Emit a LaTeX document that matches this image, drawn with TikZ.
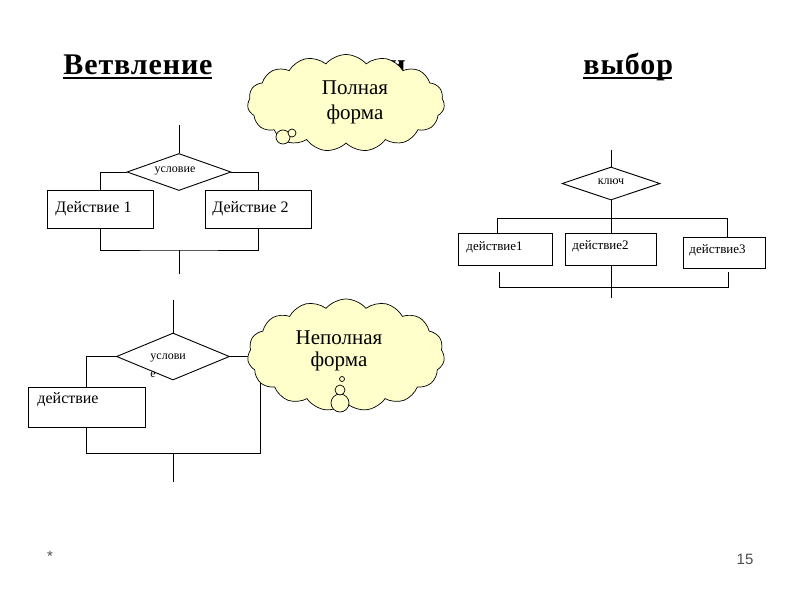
\documentclass[tikz,border=0pt]{standalone}
\usepackage{fontspec}
\setmainfont{Liberation Serif}
\newfontfamily\footfont{Liberation Sans}
\usetikzlibrary{shapes.geometric,shapes.symbols}
\definecolor{cloudfill}{HTML}{FFFFCC}
\begin{document}
\begin{tikzpicture}[x=1pt,y=-1pt, line width=0.9pt,
  box/.style={draw, rectangle, inner sep=0pt},
  dia/.style={draw, diamond, inner sep=0pt, fill=white},
  lbl/.style={anchor=west, inner sep=0pt, font=\fontsize{16}{18}\selectfont},
  small/.style={inner sep=0pt, font=\fontsize{12}{14}\selectfont},
  titlef/.style={anchor=base west, inner sep=0pt, font=\fontsize{30}{32}\selectfont\bfseries\addfontfeature{LetterSpace=3}},
  thought/.style={draw, cloud, cloud puffs=15, cloud puff arc=100, cloud ignores aspect, fill=cloudfill, line width=0.7pt, inner sep=0pt},
  bub/.style={draw, circle, fill=cloudfill, inner sep=0pt, line width=0.7pt},
  cloudtext/.style={align=center, inner sep=0pt, font=\fontsize{21}{25}\selectfont},
  foot/.style={inner sep=0pt, text=black!70, font=\footfont\fontsize{15}{15}\selectfont}]
\useasboundingbox (0,0) rectangle (800,600);

% titles
\node[titlef] (t1) at (63,74) {Ветвление};
\node[titlef] (t2) at (388,74) {и};
\node[titlef] (t3) at (583,74) {выбор};
\draw[line width=2pt] ([yshift=-4pt]t1.base west) -- ([yshift=-4pt,xshift=-1pt]t1.base east);
\draw[line width=2pt] ([yshift=-4pt]t3.base west) -- ([yshift=-4pt,xshift=-1pt]t3.base east);

% diagram 1: full branching
\coordinate (a1) at (179,125);
\node[dia, minimum width=104pt, minimum height=37pt] (d1) at (179,172) {};
\node[small] (d1t) at (175,171) {условие};
\node[box, minimum width=106pt, minimum height=38pt] (b1) at (100,209) {};
\node[box, minimum width=106pt, minimum height=38pt] (b2) at (258,209) {};
\node[lbl] (b1t) at (55,209) {Действие 1};
\node[lbl] (b2t) at (212,209) {Действие 2};
\coordinate (m1) at (179,250);
\coordinate (e1) at (179,274);
\draw (a1) -- (d1.north);
\draw (d1.west) -| (b1.north);
\draw (d1.east) -| (b2.north);
\draw (b1.south) |- (m1) -| (b2.south);
\draw (m1) -- (e1);

% diagram 2: partial branching
\coordinate (a2) at (173,300);
\node[dia, minimum width=113pt, minimum height=47pt] (d2) at (173,356.5) {};
\node[small, anchor=west] (d2t) at (150,358) {услови};
\node[small, anchor=west] (d2u) at (150,375) {е};
\node[box, minimum width=117pt, minimum height=40pt] (bx) at (86.5,407) {};
\node[lbl] (bxt) at (37,400) {действие};
\coordinate (m2) at (173,453);
\coordinate (c2) at (260,453);
\coordinate (e2) at (173,482);
\draw (a2) -- (d2.north);
\draw (d2.west) -| (bx.north);
\draw (d2.east) -| (c2) -- (m2);
\draw (bx.south) |- (m2);
\draw (m2) -- (e2);

% diagram 3: choice
\coordinate (a3) at (611,150);
\node[dia, minimum width=98pt, minimum height=33pt] (d3) at (611,183.5) {};
\node[small] (d3t) at (611,182) {ключ};
\coordinate (s3) at (611,218);
\coordinate (tl3) at (497,218);
\coordinate (tr3) at (727,218);
\node[box, minimum width=94pt, minimum height=32pt] (k1) at (505,249) {};
\node[box, minimum width=91pt, minimum height=32pt] (k2) at (611,249) {};
\node[box, minimum width=82pt, minimum height=31pt] (k3) at (724,252.5) {};
\node[small, anchor=west, font=\fontsize{13}{14}\selectfont] (k1t) at (466,247) {действие1};
\node[small, anchor=west, font=\fontsize{13}{14}\selectfont] (k2t) at (572,246) {действие2};
\node[small, anchor=west, font=\fontsize{13}{14}\selectfont] (k3t) at (689,250) {действие3};
\coordinate (bl3a) at (499,272);
\coordinate (bl3) at (499,287);
\coordinate (br3) at (728,287);
\coordinate (br3a) at (728,272);
\coordinate (e3) at (611,298);
\draw (a3) -- (d3.north);
\draw (d3.south) -- (s3);
\draw (tl3) -- (tr3);
\draw (tl3) -- (tl3 |- k1.north);
\draw (s3) -- (k2.north);
\draw (tr3) -- (tr3 |- k3.north);
\draw (bl3a) -- (bl3) -- (br3) -- (br3a);
\draw (k2.south) -- (e3);

% clouds
\node[thought, minimum width=197pt, minimum height=97pt] (c1) at (346,103) {};
\node[cloudtext] (c1t) at (355,102) {Полная\\форма};
\node[bub, minimum size=14pt] (c1b1) at (283,137) {};
\node[bub, minimum size=8pt] (c1b2) at (292,133) {};

\node[thought, minimum width=197pt, minimum height=112pt] (c2) at (346,355) {};
\node[cloudtext, font=\fontsize{21}{22}\selectfont] (c2t) at (339,351) {Неполная\\форма};
\node[bub, minimum size=18pt] (c2b3) at (340,403) {};
\node[bub, minimum size=10pt] (c2b2) at (340,390) {};
\node[bub, minimum size=5pt] (c2b1) at (342,379) {};

% footer
\node[foot] (star) at (50,556) {*};
\node[foot] (pg) at (745,559) {15};
\end{tikzpicture}
\end{document}
